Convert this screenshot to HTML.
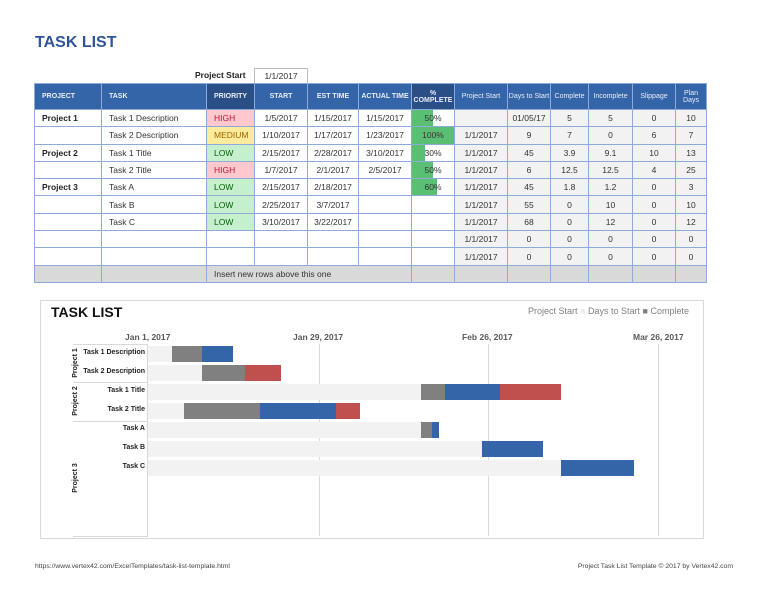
<!DOCTYPE html>
<html><head><meta charset="utf-8"><style>
*{margin:0;padding:0;box-sizing:border-box}
body{width:768px;height:594px;background:#fff;font-family:"Liberation Sans",sans-serif;position:relative;overflow:hidden;color:#333}
.a{position:absolute}
table{position:absolute;left:34px;top:83px;border-collapse:collapse;table-layout:fixed;font-size:8.5px}
td{border:1px solid #8eaadb;height:17.3px;text-align:center;padding:0;white-space:nowrap;overflow:hidden}
th{background:#3465a8;color:#e8eef8;font-weight:bold;font-size:7px;height:26px;border:1px solid #8eaadb;padding:0}
th.r{font-weight:normal}
td.l{text-align:left;padding-left:7px}
td.b{font-weight:bold;color:#222}
td.g{background:#f2f2f2}
.hi{background:#ffc7ce;color:#c0143c;text-align:left;padding-left:7px}
.me{background:#ffeb9c;color:#9c6500;text-align:left;padding-left:7px}
.lo{background:#c6efce;color:#006100;text-align:left;padding-left:7px}
.pc{position:relative}
.pc span{position:absolute;left:0;top:0;bottom:0;background:#5bbf73}
.pc i{position:relative;font-style:normal}
.ins td{background:#d9d9d9}
.bar{position:absolute;height:16px}
.L{background:#f2f2f2}.G{background:#808080}.B{background:#3465a8}.R{background:#c0504d}
.lab{position:absolute;font-size:7px;font-weight:bold;color:#222;text-align:right;width:120px}
.vl{position:absolute;width:1px;background:#d9d9d9;top:344px;height:192px}
.xl{position:absolute;top:332px;font-size:8.5px;font-weight:bold;color:#595959}
.pj{position:absolute;font-size:7px;font-weight:bold;color:#222;transform:rotate(-90deg);white-space:nowrap;width:50px;text-align:center;line-height:8px}
</style></head><body>
<div class="a" style="left:35px;top:34px;font-size:16px;font-weight:bold;color:#2f5597">TASK LIST</div>
<div class="a" style="left:195px;top:70px;font-size:8.5px;font-weight:bold;color:#222">Project Start</div>
<div class="a" style="left:254px;top:68px;width:54px;height:16px;border:1px solid #bbb;border-bottom:none;font-size:8.5px;text-align:center;line-height:15px">1/1/2017</div>
<table>
<colgroup><col style="width:67px"><col style="width:105px"><col style="width:48px"><col style="width:53px"><col style="width:51px"><col style="width:53px"><col style="width:43px"><col style="width:53px"><col style="width:43px"><col style="width:38px"><col style="width:44px"><col style="width:43px"><col style="width:31px"></colgroup>
<tr><th style="text-align:left;padding-left:7px">PROJECT</th><th style="text-align:left;padding-left:7px">TASK</th><th style="background:#2a4f86">PRIORITY</th><th>START</th><th>EST TIME</th><th>ACTUAL TIME</th><th style="background:#2a4f86">%<br>COMPLETE</th><th class="r">Project Start</th><th class="r">Days to Start</th><th class="r">Complete</th><th class="r">Incomplete</th><th class="r">Slippage</th><th class="r">Plan<br>Days</th></tr>
<tr><td class="l b">Project 1</td><td class="l">Task 1 Description</td><td class="hi">HIGH</td><td>1/5/2017</td><td>1/15/2017</td><td>1/15/2017</td><td class="pc"><span style="width:50%"></span><i>50%</i></td><td class="g"></td><td class="g">01/05/17</td><td class="g">5</td><td class="g">5</td><td class="g">0</td><td class="g">10</td></tr>
<tr><td></td><td class="l">Task 2 Description</td><td class="me">MEDIUM</td><td>1/10/2017</td><td>1/17/2017</td><td>1/23/2017</td><td class="pc"><span style="width:100%"></span><i>100%</i></td><td class="g">1/1/2017</td><td class="g">9</td><td class="g">7</td><td class="g">0</td><td class="g">6</td><td class="g">7</td></tr>
<tr><td class="l b">Project 2</td><td class="l">Task 1 Title</td><td class="lo">LOW</td><td>2/15/2017</td><td>2/28/2017</td><td>3/10/2017</td><td class="pc"><span style="width:30%"></span><i>30%</i></td><td class="g">1/1/2017</td><td class="g">45</td><td class="g">3.9</td><td class="g">9.1</td><td class="g">10</td><td class="g">13</td></tr>
<tr><td></td><td class="l">Task 2 Title</td><td class="hi">HIGH</td><td>1/7/2017</td><td>2/1/2017</td><td>2/5/2017</td><td class="pc"><span style="width:50%"></span><i>50%</i></td><td class="g">1/1/2017</td><td class="g">6</td><td class="g">12.5</td><td class="g">12.5</td><td class="g">4</td><td class="g">25</td></tr>
<tr><td class="l b">Project 3</td><td class="l">Task A</td><td class="lo">LOW</td><td>2/15/2017</td><td>2/18/2017</td><td></td><td class="pc"><span style="width:60%"></span><i>60%</i></td><td class="g">1/1/2017</td><td class="g">45</td><td class="g">1.8</td><td class="g">1.2</td><td class="g">0</td><td class="g">3</td></tr>
<tr><td></td><td class="l">Task B</td><td class="lo">LOW</td><td>2/25/2017</td><td>3/7/2017</td><td></td><td></td><td class="g">1/1/2017</td><td class="g">55</td><td class="g">0</td><td class="g">10</td><td class="g">0</td><td class="g">10</td></tr>
<tr><td></td><td class="l">Task C</td><td class="lo">LOW</td><td>3/10/2017</td><td>3/22/2017</td><td></td><td></td><td class="g">1/1/2017</td><td class="g">68</td><td class="g">0</td><td class="g">12</td><td class="g">0</td><td class="g">12</td></tr>
<tr><td></td><td></td><td></td><td></td><td></td><td></td><td></td><td class="g">1/1/2017</td><td class="g">0</td><td class="g">0</td><td class="g">0</td><td class="g">0</td><td class="g">0</td></tr>
<tr><td></td><td></td><td></td><td></td><td></td><td></td><td></td><td class="g">1/1/2017</td><td class="g">0</td><td class="g">0</td><td class="g">0</td><td class="g">0</td><td class="g">0</td></tr>
<tr class="ins"><td></td><td></td><td colspan="4" style="text-align:left;padding-left:7px">Insert new rows above this one</td><td></td><td></td><td></td><td></td><td></td><td></td><td></td></tr>
</table>

<div class="a" style="left:40px;top:300px;width:664px;height:239px;border:1px solid #d9d9d9"></div>
<div class="a" style="left:51px;top:304px;font-size:14px;font-weight:bold;color:#111">TASK LIST</div>
<div class="a" style="left:528px;top:306px;font-size:9px;color:#808080">Project Start <span style="color:#eee">■</span> Days to Start <span style="color:#808080">■</span> Complete</div>
<div class="xl" style="left:125px">Jan 1, 2017</div>
<div class="xl" style="left:293px">Jan 29, 2017</div>
<div class="xl" style="left:462px">Feb 26, 2017</div>
<div class="xl" style="left:633px">Mar 26, 2017</div>
<div class="vl" style="left:319px"></div><div class="vl" style="left:488px"></div><div class="vl" style="left:658px"></div>
<div class="a" style="left:147px;top:344px;width:1px;height:192px;background:#d9d9d9"></div>
<div class="a" style="left:73px;top:344px;width:75px;height:1px;background:#d9d9d9"></div>
<div class="a" style="left:73px;top:382px;width:75px;height:1px;background:#d9d9d9"></div>
<div class="a" style="left:73px;top:421px;width:75px;height:1px;background:#d9d9d9"></div>
<div class="a" style="left:73px;top:536px;width:75px;height:1px;background:#d9d9d9"></div>
<div class="pj" style="left:51px;top:359px">Project 1</div>
<div class="pj" style="left:51px;top:397px">Project 2</div>
<div class="pj" style="left:51px;top:474px">Project 3</div>
<div class="lab" style="left:25px;top:349px">Task 1 Description</div>
<div class="lab" style="left:25px;top:368px">Task 2 Description</div>
<div class="lab" style="left:25px;top:387px">Task 1 Title</div>
<div class="lab" style="left:25px;top:406px">Task 2 Title</div>
<div class="lab" style="left:25px;top:425px">Task A</div>
<div class="lab" style="left:25px;top:444px">Task B</div>
<div class="lab" style="left:25px;top:463px">Task C</div>

<div class="bar L" style="left:148px;top:346px;width:24px"></div><div class="bar G" style="left:172px;top:346px;width:30px"></div><div class="bar B" style="left:202px;top:346px;width:31px"></div>
<div class="bar L" style="left:148px;top:365px;width:54px"></div><div class="bar G" style="left:202px;top:365px;width:43px"></div><div class="bar R" style="left:245px;top:365px;width:36px"></div>
<div class="bar L" style="left:148px;top:384px;width:273px"></div><div class="bar G" style="left:421px;top:384px;width:24px"></div><div class="bar B" style="left:445px;top:384px;width:55px"></div><div class="bar R" style="left:500px;top:384px;width:61px"></div>
<div class="bar L" style="left:148px;top:403px;width:36px"></div><div class="bar G" style="left:184px;top:403px;width:76px"></div><div class="bar B" style="left:260px;top:403px;width:76px"></div><div class="bar R" style="left:336px;top:403px;width:24px"></div>
<div class="bar L" style="left:148px;top:422px;width:273px"></div><div class="bar G" style="left:421px;top:422px;width:11px"></div><div class="bar B" style="left:432px;top:422px;width:7px"></div>
<div class="bar L" style="left:148px;top:441px;width:334px"></div><div class="bar B" style="left:482px;top:441px;width:61px"></div>
<div class="bar L" style="left:148px;top:460px;width:413px"></div><div class="bar B" style="left:561px;top:460px;width:73px"></div>

<div class="a" style="left:35px;top:563px;font-size:6.8px;color:#444">https://www.vertex42.com/ExcelTemplates/task-list-template.html</div>
<div class="a" style="right:35px;top:563px;font-size:6.8px;color:#444">Project Task List Template © 2017 by Vertex42.com</div>
</body></html>
